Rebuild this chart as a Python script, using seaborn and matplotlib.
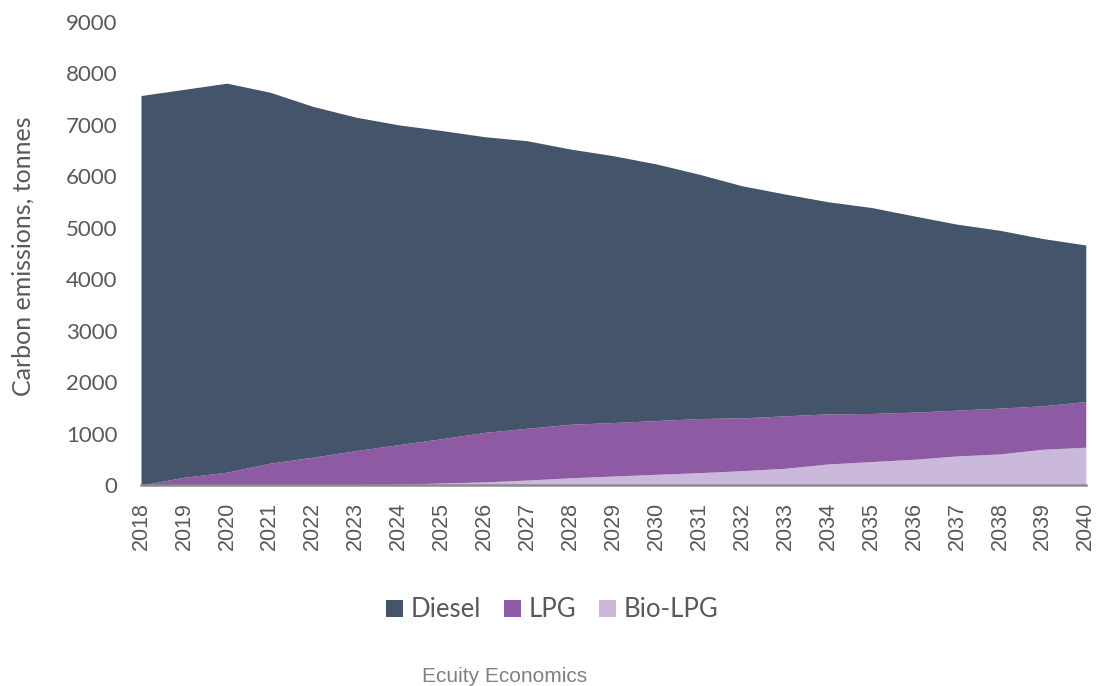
import numpy as np
import pandas as pd
import matplotlib
matplotlib.use("Agg")
import matplotlib.pyplot as plt
from matplotlib.patches import Patch
import seaborn as sns

# ── Data ────────────────────────────────────────────────────────
YEARS = list(range(2018, 2041))
BIO_LPG = [0, 0, 0, 0, 5, 10, 15, 40, 60, 97, 140, 175, 208, 240,
           279, 325, 409, 455, 500, 565, 604, 695, 734]
LPG     = [0, 150, 250, 425, 535, 658, 770, 860, 962, 1007, 1041, 1039,
           1045, 1052, 1026, 1019, 974, 935, 916, 890, 890, 844, 889]
DIESEL  = [7570, 7540, 7560, 7210, 6820, 6482, 6215, 5990, 5748, 5586,
           5349, 5186, 4987, 4748, 4510, 4311, 4122, 4005, 3814, 3615,
           3456, 3251, 3042]
SERIES  = ["Diesel", "LPG", "Bio-LPG"]
Y_TICKS = list(range(0, 9001, 1000))

COLORS = {"Diesel": "#44546A", "LPG": "#8E5AA4", "Bio-LPG": "#CBB9DB"}
TXT    = "#595959"

sns.set_theme(style="white")
plt.rcParams["font.family"] = ["Lato", "DejaVu Sans"]

df = pd.DataFrame({"Year": YEARS, "Bio-LPG": BIO_LPG,
                   "LPG": LPG, "Diesel": DIESEL})
x = np.arange(len(YEARS))

fig = plt.figure(figsize=(11.05, 6.86), dpi=100)
ax = fig.add_axes([0.1276, 0.293, 0.855, 0.675])

ax.stackplot(x, df["Bio-LPG"], df["LPG"], df["Diesel"],
             colors=[COLORS["Bio-LPG"], COLORS["LPG"], COLORS["Diesel"]],
             linewidth=0)

ax.set_xlim(0, len(YEARS) - 1)
ax.set_ylim(0, 9000)
ax.set_yticks(Y_TICKS)
ax.set_yticklabels([str(v) for v in Y_TICKS], fontsize=16, color=TXT)
ax.set_xticks(x)
ax.set_xticklabels([str(y) for y in YEARS], rotation=90, fontsize=15.5,
                   color=TXT, family="Liberation Sans")
ax.tick_params(axis="both", length=0)
ax.tick_params(axis="y", pad=17)
ax.tick_params(axis="x", pad=12)

sns.despine(ax=ax, left=True)
ax.spines["bottom"].set_color("#8A8A8A")
ax.spines["bottom"].set_linewidth(1.8)
ax.spines["bottom"].set_zorder(5)
ax.grid(False)

fig.text(0.021, 0.627, "Carbon emissions, tonnes", rotation=90,
         fontsize=18, color=TXT, ha="center", va="center")

handles = [Patch(facecolor=COLORS[s], edgecolor="none", label=s)
           for s in SERIES]
fig.legend(handles=handles, loc="center", bbox_to_anchor=(0.5, 0.111),
           ncol=3, frameon=False, fontsize=18.5, labelcolor=TXT,
           handlelength=0.65, handleheight=0.65, handletextpad=0.3,
           columnspacing=0.9)

fig.text(0.457, 0.014, "Ecuity Economics", fontsize=15, color="#808080",
         ha="center", va="center", family="Liberation Sans")

plt.savefig("out.png", dpi=100)
plt.close()
